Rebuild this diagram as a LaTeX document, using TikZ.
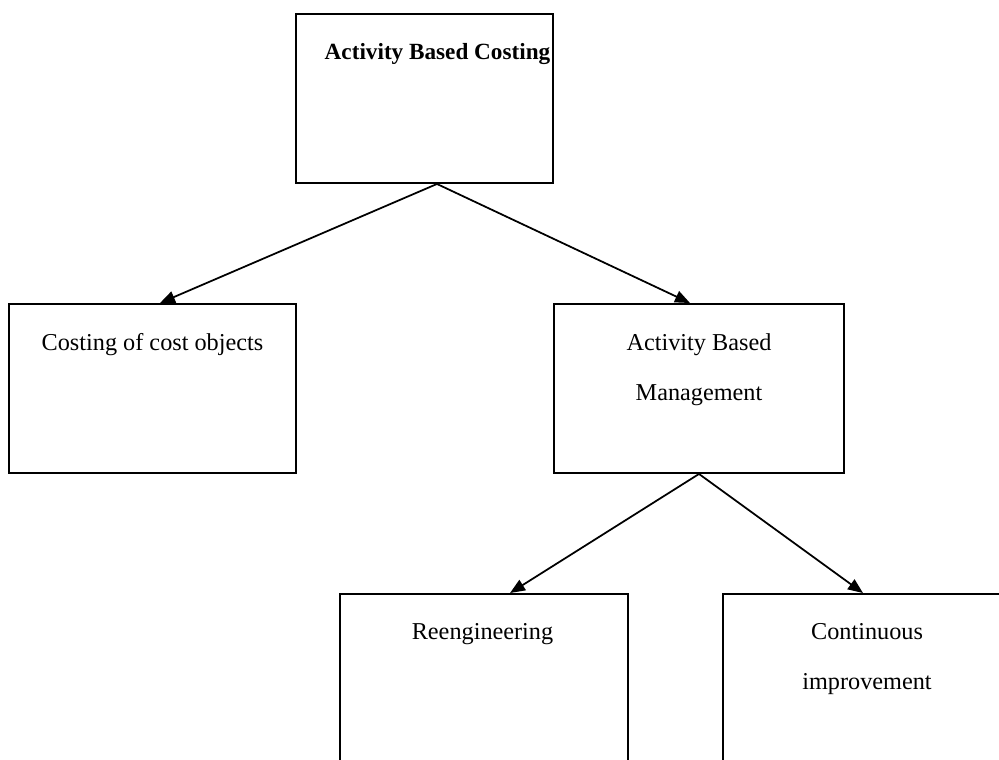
\documentclass[tikz,border=0pt]{standalone}
\usepackage{fontspec}
\setmainfont{Liberation Serif}
\usetikzlibrary{arrows.meta}

\begin{document}
\begin{tikzpicture}[
        kasten/.style={draw, line width=1.1pt, inner sep=0pt, minimum height=3.38cm},
        beschriftung/.style={anchor=north, inner sep=0pt, align=center, font=\fontsize{13.8}{28.45}\selectfont},
        pfeil/.style={line width=1pt, -{Triangle[length=0.3cm, width=0.24cm]}}
    ]
        \clip (0,0) rectangle (19.98,15.18);

        % Kaesten
        \node [kasten, minimum width=5.14cm] (abc) at (8.49,13.21) {};
        \node [kasten, minimum width=5.74cm] (kostenobjekte) at (3.05,7.41) {};
        \node [kasten, minimum width=5.80cm] (abm) at (13.98,7.41) {};
        \node [kasten, minimum width=5.76cm] (reengineering) at (9.68,1.61) {};
        \node [kasten, minimum width=5.76cm] (verbesserung) at (17.34,1.61) {};

        % Texte
        \node [beschriftung, font=\fontsize{13.2}{28.45}\selectfont\bfseries] (abctext) at ([xshift=0.26cm, yshift=-0.6cm]abc.north) {Activity Based Costing};
        \node [beschriftung] (kostenobjektetext) at ([yshift=-0.6cm]kostenobjekte.north) {Costing of cost objects};
        \node [beschriftung] (abmtext) at ([yshift=-0.6cm]abm.north) {Activity Based\\Management};
        \node [beschriftung] (reengineeringtext) at ([xshift=-0.03cm, yshift=-0.6cm]reengineering.north) {Reengineering};
        \node [beschriftung] (verbesserungtext) at ([yshift=-0.6cm]verbesserung.north) {Continuous\\improvement};

        % Pfeile
        \draw [pfeil] ([xshift=0.25cm]abc.south) -- ([xshift=0.15cm]kostenobjekte.north);
        \draw [pfeil] ([xshift=0.25cm]abc.south) -- ([xshift=-0.18cm]abm.north);
        \draw [pfeil] (abm.south) -- ([xshift=0.52cm]reengineering.north);
        \draw [pfeil] (abm.south) -- ([xshift=-0.08cm]verbesserung.north);
\end{tikzpicture}
\end{document}
